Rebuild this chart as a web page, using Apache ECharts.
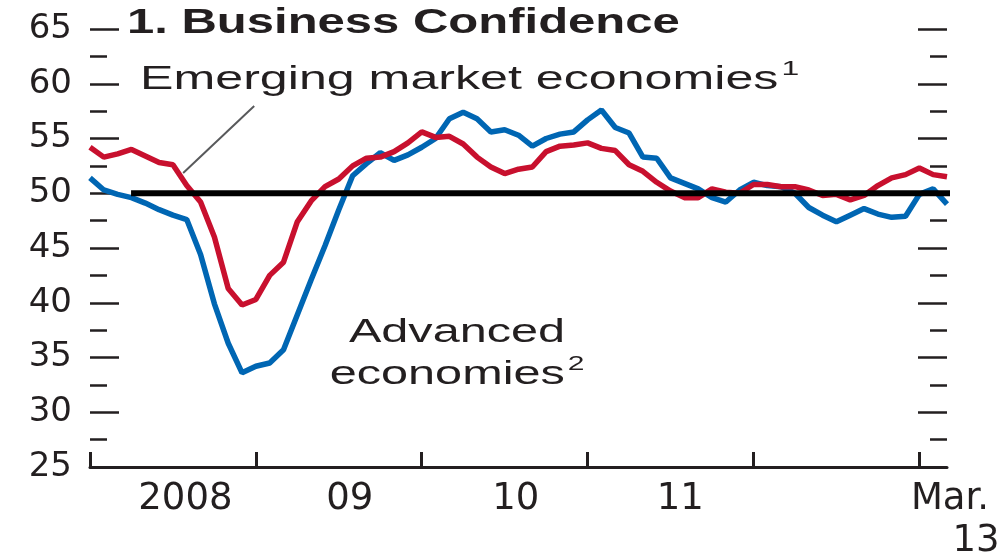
<!DOCTYPE html>
<html>
<head>
<meta charset="utf-8">
<script src="https://cdn.jsdelivr.net/npm/echarts@6/dist/echarts.min.js"></script>
<style>
  html, body { margin: 0; padding: 0; background: #fff; }
  #chart { width: 1003px; height: 552px; }
</style>
</head>
<body>
<div id="chart"></div>
<script>
// monthly readings, Jan 2008 (index 0) to Mar 2013 (index 62)
const emerging = [54.2, 53.3, 53.6, 54.0, 53.4, 52.8, 52.6, 50.7, 49.2, 46.0, 41.3, 39.8,
  40.3, 42.5, 43.7, 47.4, 49.3, 50.6, 51.3, 52.5, 53.2, 53.3, 53.8, 54.6,
  55.6, 55.1, 55.2, 54.5, 53.3, 52.4, 51.8, 52.2, 52.4, 53.8, 54.3, 54.4,
  54.6, 54.1, 53.9, 52.6, 52.0, 51.0, 50.2, 49.6, 49.6, 50.4, 50.1, 50.0,
  50.8, 50.8, 50.6, 50.6, 50.3, 49.8, 49.9, 49.4, 49.8, 50.7, 51.4, 51.7,
  52.3, 51.7, 51.5];
const advanced = [51.4, 50.3, 49.9, 49.6, 49.1, 48.5, 48.0, 47.6, 44.4, 39.9, 36.3, 33.6,
  34.2, 34.5, 35.7, 38.9, 42.1, 45.2, 48.5, 51.6, 52.7, 53.7, 53.0, 53.5,
  54.2, 55.0, 56.8, 57.4, 56.8, 55.6, 55.8, 55.3, 54.3, 55.0, 55.4, 55.6,
  56.7, 57.6, 56.0, 55.5, 53.3, 53.2, 51.4, 50.9, 50.4, 49.6, 49.2, 50.3,
  51.0, 50.7, 50.6, 50.0, 48.7, 48.0, 47.4, 48.0, 48.6, 48.1, 47.8, 47.9,
  49.9, 50.4, 49.0];

const yearTicks = [0, 12, 24, 36, 48, 60];
const xLabelPos = [6.9, 18.8, 30.8, 42.7, 62];
const xLabels = ['2008', '09', '10', '11', 'Mar.\n13'];

// threshold line at 50 and the leader from the label to the emerging series
const thresholdLine = [[2.97, 50], [63.8, 50]];
const leaderLine = [[6.74, 51.85], [11.88, 57.97]];

const ink = '#231f20';
const axisFont = 'DejaVu Sans';

const chart = echarts.init(document.getElementById('chart'));

const yAxisBase = {
  type: 'value',
  min: 25,
  max: 65,
  interval: 5,
  axisLine: { show: false },
  axisTick: { show: true, inside: true, length: 29, lineStyle: { color: ink, width: 2.5 } },
  minorTick: { show: true, splitNumber: 2, length: 17, lineStyle: { color: ink, width: 2.5 } },
  splitLine: { show: false },
  minorSplitLine: { show: false }
};

chart.setOption({
  animation: false,
  grid: { left: 90, right: 56, top: 29, bottom: 85, containLabel: false, outerBoundsMode: 'none' },
  xAxis: {
    type: 'value',
    min: 0,
    max: 62,
    axisLine: { onZero: false, lineStyle: { color: ink, width: 3 } },
    axisTick: { show: true, inside: true, length: 15, customValues: yearTicks, lineStyle: { color: ink, width: 3 } },
    splitLine: { show: false },
    axisLabel: {
      customValues: xLabelPos,
      color: ink,
      fontFamily: axisFont,
      fontSize: 37,
      margin: 11,
      lineHeight: 42,
      formatter: function (v) {
        const i = xLabelPos.indexOf(v);
        if (i < 0) return '';
        const parts = xLabels[i].split('\n');
        if (parts.length > 1) return '{m|' + parts[0] + '}\n{n|' + parts[1] + '}';
        return xLabels[i];
      },
      rich: {
        m: { fontFamily: axisFont, fontSize: 37, color: ink, lineHeight: 42, padding: [0, 0, 0, 6] },
        n: { fontFamily: axisFont, fontSize: 37, color: ink, lineHeight: 42, padding: [0, 0, 0, 58] }
      }
    }
  },
  yAxis: [
    Object.assign({}, yAxisBase, {
      position: 'left',
      axisLabel: { color: ink, fontFamily: axisFont, fontSize: 34, margin: 18 }
    }),
    Object.assign({}, yAxisBase, {
      position: 'right',
      axisLabel: { show: false }
    })
  ],
  series: [
    {
      name: 'Advanced economies',
      type: 'line',
      data: advanced.map((v, i) => [i, v]),
      showSymbol: false,
      lineStyle: { color: '#0066b3', width: 5.5 },
      z: 3
    },
    {
      name: 'Emerging market economies',
      type: 'line',
      data: emerging.map((v, i) => [i, v]),
      showSymbol: false,
      lineStyle: { color: '#c8102e', width: 5.5 },
      z: 4
    },
    {
      name: 'leader',
      type: 'line',
      data: leaderLine,
      showSymbol: false,
      lineStyle: { color: '#58595b', width: 2 },
      z: 5
    },
    {
      name: 'threshold',
      type: 'line',
      data: thresholdLine,
      showSymbol: false,
      clip: false,
      lineStyle: { color: '#000', width: 6 },
      z: 6
    }
  ],
  graphic: [
    {
      type: 'text',
      x: 127, y: 23,
      scaleX: 1.4,
      style: {
        text: '1. Business Confidence',
        fontFamily: 'Liberation Sans', fontSize: 35, fontWeight: 'bold',
        fill: ink, align: 'left', verticalAlign: 'middle'
      }
    },
    {
      type: 'text',
      x: 140, y: 80,
      scaleX: 1.52,
      style: {
        text: '{a|Emerging market economies}{s|1}',
        fill: ink, align: 'left', verticalAlign: 'middle',
        rich: {
          a: { fontFamily: 'Liberation Sans', fontSize: 33, fill: ink, lineHeight: 42 },
          s: { fontFamily: 'Liberation Sans', fontSize: 21, fill: ink, lineHeight: 22, verticalAlign: 'top', padding: [0, 0, 0, 2] }
        }
      }
    },
    {
      type: 'text',
      x: 457, y: 312,
      scaleX: 1.43,
      style: {
        text: '{a|Advanced}\n{b|economies}{s|2}',
        fill: ink, align: 'center', verticalAlign: 'top',
        rich: {
          a: { fontFamily: 'Liberation Sans', fontSize: 34, fill: ink, lineHeight: 42 },
          b: { fontFamily: 'Liberation Sans', fontSize: 34, fill: ink, lineHeight: 48, padding: [0, 0, 6, 0] },
          s: { fontFamily: 'Liberation Sans', fontSize: 21, fill: ink, lineHeight: 22, verticalAlign: 'top', padding: [0, 0, 0, 2] }
        }
      }
    }
  ]
});
</script>
</body>
</html>
